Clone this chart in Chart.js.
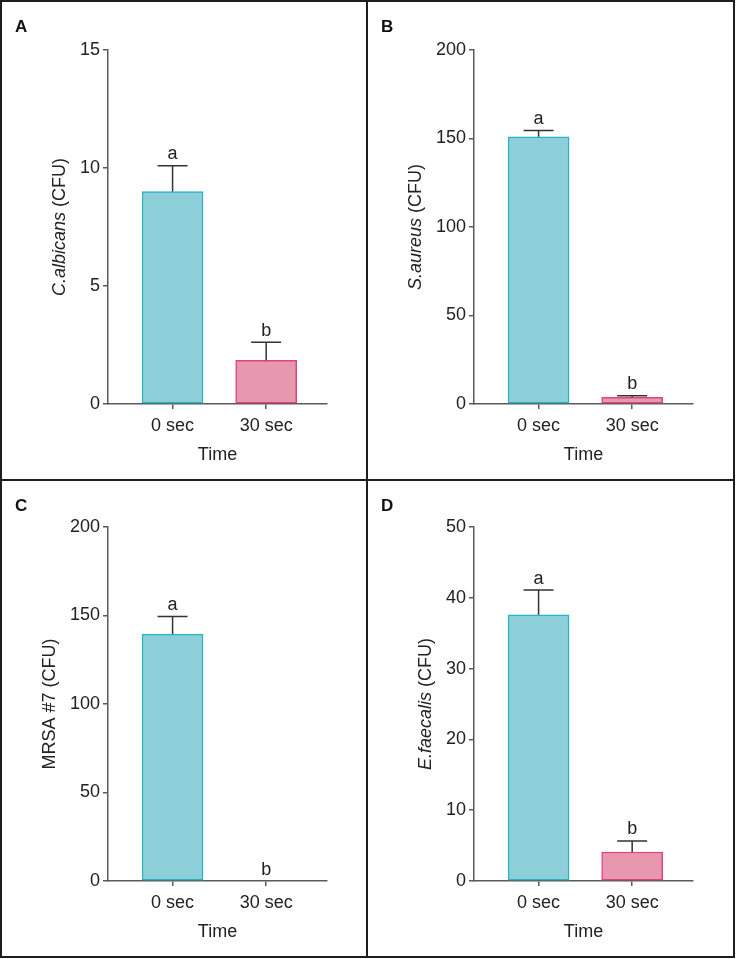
<!DOCTYPE html>
<html><head><meta charset="utf-8">
<script src="https://cdn.jsdelivr.net/npm/chart.js@4.4.0/dist/chart.umd.min.js"></script>
<style>
html,body{margin:0;padding:0;background:#fff;}
#wrap{position:relative;width:736px;height:959px;}
.panel{position:absolute;box-sizing:border-box;border:2px solid #1e1e1e;background:#fff;}
.panel canvas{display:block;}
</style></head><body>
<div id="wrap">
<div class="panel" style="left:0;top:0;width:368px;height:481px"><canvas id="cA" width="364" height="477"></canvas></div>
<div class="panel" style="left:366px;top:0;width:369px;height:481px"><canvas id="cB" width="365" height="477"></canvas></div>
<div class="panel" style="left:0;top:479px;width:368px;height:479px"><canvas id="cC" width="364" height="475"></canvas></div>
<div class="panel" style="left:366px;top:479px;width:369px;height:479px"><canvas id="cD" width="365" height="475"></canvas></div>
</div>
<script>
// ---- data ----
const categories = ['0 sec', '30 sec'];
const panelLetters = ['A', 'B', 'C', 'D'];
const sigLetters = ['a', 'b'];
const albicansMean = [9.0, 1.85];
const albicansErr = [1.1, 0.77];
const aureusMean = [151, 3.8];
const aureusErr = [3.5, 0.9];
const mrsaMean = [139.5, 0];
const mrsaErr = [10, 0];
const faecalisMean = [37.6, 4.1];
const faecalisErr = [3.5, 1.55];
const yMaxes = [15, 200, 200, 50];
const ySteps = [5, 50, 50, 10];
const xTitle = 'Time';
const yTitleA = [['C.albicans', true], [' (CFU)', false]];
const yTitleB = [['S.aureus', true], [' (CFU)', false]];
const yTitleC = [['MRSA #7 (CFU)', false]];
const yTitleD = [['E.faecalis', true], [' (CFU)', false]];

// ---- styling ----
const FONT = '"Liberation Sans", Arial, Helvetica, sans-serif';
Chart.defaults.font.family = FONT;
Chart.defaults.font.size = 18;
Chart.defaults.color = '#222';
const fillColors = ['#8dcfd8', '#e898ae'];
const edgeColors = ['#2ab3c3', '#e0437e'];
const axisColor = '#5a5a5a';

const annot = {
  id: 'annot',
  afterDatasetsDraw(chart, args, opts) {
    const ctx = chart.ctx, xs = chart.scales.x, ys = chart.scales.y;
    ctx.save();
    ctx.strokeStyle = '#333';
    ctx.lineWidth = 1.5;
    opts.mean.forEach((m, i) => {
      const x = xs.getPixelForValue(i);
      const y0 = ys.getPixelForValue(m);
      const y1 = ys.getPixelForValue(m + opts.err[i]);
      if (opts.err[i] > 0) {
        ctx.beginPath();
        ctx.moveTo(x, y0); ctx.lineTo(x, y1);
        ctx.moveTo(x - 15, y1); ctx.lineTo(x + 15, y1);
        ctx.stroke();
      }
      ctx.fillStyle = '#222';
      ctx.font = '18px ' + FONT;
      ctx.textAlign = 'center';
      ctx.textBaseline = 'alphabetic';
      ctx.fillText(opts.letters[i], x, y1 - 6.5);
    });
    // y title
    ctx.font = '18px ' + FONT;
    let maxW = 0;
    ys.ticks.forEach(t => { maxW = Math.max(maxW, ctx.measureText(String(t.label)).width); });
    const labelLeft = ys.right - 5 - 3 - maxW;
    const bx = labelLeft - 15;
    const cy = (chart.chartArea.top + chart.chartArea.bottom) / 2;
    const widths = opts.ytitle.map(p => { ctx.font = (p[1] ? 'italic ' : '') + '18px ' + FONT; return ctx.measureText(p[0]).width; });
    const total = widths.reduce((a, b) => a + b, 0);
    ctx.translate(bx, cy);
    ctx.rotate(-Math.PI / 2);
    ctx.textAlign = 'left';
    let cx = -total / 2;
    opts.ytitle.forEach((p, k) => {
      ctx.font = (p[1] ? 'italic ' : '') + '18px ' + FONT;
      ctx.fillText(p[0], cx, 0);
      cx += widths[k];
    });
    ctx.setTransform(1, 0, 0, 1, 0, 0);
    // panel letter
    ctx.font = 'bold 17px ' + FONT;
    ctx.textAlign = 'left';
    ctx.fillStyle = '#111';
    ctx.fillText(opts.panel, 13, 30);
    ctx.restore();
  }
};

function makeChart(id, mean, err, ymax, ystep, ytitle, panel, topPad, rightPad) {
  new Chart(document.getElementById(id), {
    type: 'bar',
    data: {
      datasets: [{
        data: mean.map((v, i) => ({ x: i, y: v })),
        backgroundColor: fillColors,
        borderColor: edgeColors,
        borderWidth: 1.5,
        borderSkipped: false,
        barThickness: 61
      }]
    },
    options: {
      responsive: false,
      animation: false,
      layout: { padding: { top: topPad, right: rightPad, left: 0, bottom: 0 } },
      plugins: {
        legend: { display: false },
        tooltip: { enabled: false },
        annot: { mean: mean, err: err, letters: sigLetters, ytitle: ytitle, panel: panel }
      },
      scales: {
        x: {
          type: 'linear',
          offset: false,
          min: -0.69, max: 1.65,
          afterBuildTicks: s => { s.ticks = categories.map((c, i) => ({ value: i })); },
          afterFit: s => { s.height = 75; },
          ticks: { callback: v => categories[v] !== undefined ? categories[v] : '', padding: 6, maxRotation: 0, autoSkip: false, color: '#222' },
          grid: { offset: false, drawOnChartArea: false, drawTicks: true, tickLength: 5, color: axisColor, lineWidth: 1.5 },
          border: { color: axisColor, width: 1.5 },
          title: { display: true, text: xTitle, color: '#222', font: { size: 18 }, padding: { top: 0, bottom: 13 } }
        },
        y: {
          min: 0, max: ymax,
          afterFit: s => { s.width = 106; },
          ticks: { stepSize: ystep, padding: 3, color: '#222' },
          grid: { drawOnChartArea: false, drawTicks: true, tickLength: 5, color: axisColor, lineWidth: 1.5 },
          border: { color: axisColor, width: 1.5 }
        }
      }
    },
    plugins: [annot]
  });
}

makeChart('cA', albicansMean, albicansErr, yMaxes[0], ySteps[0], yTitleA, panelLetters[0], 48, 39);
makeChart('cB', aureusMean, aureusErr, yMaxes[1], ySteps[1], yTitleB, panelLetters[1], 48, 40);
makeChart('cC', mrsaMean, mrsaErr, yMaxes[2], ySteps[2], yTitleC, panelLetters[2], 46, 39);
makeChart('cD', faecalisMean, faecalisErr, yMaxes[3], ySteps[3], yTitleD, panelLetters[3], 46, 40);
</script>
</body></html>
